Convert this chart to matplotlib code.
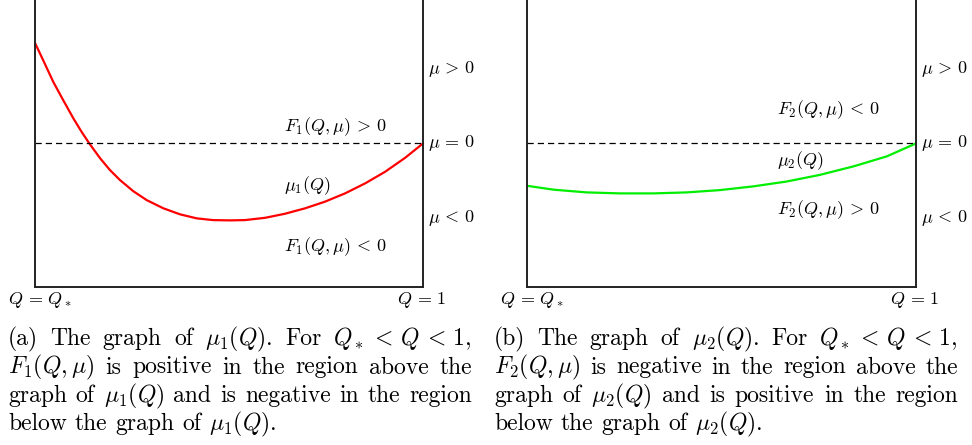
import re
import numpy as np
import matplotlib
matplotlib.use("Agg")
import matplotlib.pyplot as plt

plt.rcParams["mathtext.fontset"] = "cm"
plt.rcParams["font.family"] = "serif"
plt.rcParams["font.serif"] = ["cmr10", "DejaVu Serif"]
plt.rcParams["axes.unicode_minus"] = False

# curve values, Q rescaled so Q_* -> 0 and 1 -> 1,
# mu scaled so the bottom of the box is -1
q1 = [0.0, 0.021, 0.047, 0.073, 0.099, 0.120, 0.140, 0.168, 0.193, 0.219,
      0.253, 0.288, 0.331, 0.374, 0.417, 0.459, 0.503, 0.541, 0.593, 0.644,
      0.696, 0.747, 0.799, 0.851, 0.902, 0.954, 1.0]
mu1 = [0.700, 0.580, 0.429, 0.300, 0.174, 0.081, 0.0, -0.104, -0.185, -0.255,
       -0.332, -0.395, -0.452, -0.494, -0.522, -0.534, -0.536, -0.534, -0.518,
       -0.490, -0.452, -0.406, -0.348, -0.278, -0.198, -0.100, 0.0]

q2 = [0.0, 0.068, 0.153, 0.239, 0.325, 0.411, 0.496, 0.582, 0.668, 0.753,
      0.839, 0.925, 1.0]
mu2 = [-0.295, -0.322, -0.341, -0.348, -0.348, -0.341, -0.325, -0.299,
       -0.265, -0.219, -0.160, -0.090, 0.0]

captions = [
    ["(a) The graph of $\\mu_1(Q)$.  For $Q_* \\, < \\, Q \\, < \\, 1$,",
     "$F_1(Q,\\mu)$ is positive in the region above the",
     "graph of $\\mu_1(Q)$ and is negative in the region",
     "below the graph of $\\mu_1(Q)$."],
    ["(b) The graph of $\\mu_2(Q)$.  For $Q_* \\, < \\, Q \\, < \\, 1$,",
     "$F_2(Q,\\mu)$ is negative in the region above the",
     "graph of $\\mu_2(Q)$ and is positive in the region",
     "below the graph of $\\mu_2(Q)$."],
]

W, H = 972, 445
fig = plt.figure(figsize=(W / 100, H / 100), dpi=100)


def fx(px):
    return px / W


def fy(py):
    return 1 - py / H


TS = 13


def panel(x0, x1, q, mu, color, labels):
    ax = fig.add_axes([fx(x0), fy(287), fx(x1) - fx(x0), fy(-3) - fy(287)])
    ax.plot(q, mu, color=color, lw=1.6, solid_capstyle="round", clip_on=False)
    ax.axhline(0, color="black", lw=0.9, ls=(0, (5, 3.2)))
    ax.set_xlim(0, 1)
    ax.set_ylim(-1, 1.02)
    ax.set_xticks([])
    ax.set_yticks([])
    for s in ax.spines.values():
        s.set_linewidth(1.4)
        s.set_color("#222222")
    fig.text(fx(x1 + 5), fy(69), "$\\mu \\, > \\, 0$", fontsize=TS, va="center")
    fig.text(fx(x1 + 5), fy(143), "$\\mu \\, = \\, 0$", fontsize=TS, va="center")
    fig.text(fx(x1 + 5), fy(218), "$\\mu \\, < \\, 0$", fontsize=TS, va="center")
    for (px, py, s) in labels:
        fig.text(fx(px), fy(py), s, fontsize=TS, va="center")
    fig.text(fx(x0 - 27), fy(300), "$Q \\, = \\, Q_*$", fontsize=TS, va="center")
    fig.text(fx(x1 - 26), fy(300), "$Q \\, = \\, 1$", fontsize=TS, va="center")
    return ax


panel(35, 423, q1, mu1, "#ff0000",
      [(284, 126.5, "$F_1(Q,\\mu) \\, > \\, 0$"),
       (284, 186, "$\\mu_1(Q)$"),
       (284, 246.5, "$F_1(Q,\\mu) \\, < \\, 0$")])
panel(527, 916, q2, mu2, "#00ee00",
      [(777, 110, "$F_2(Q,\\mu) \\, < \\, 0$"),
       (777, 161, "$\\mu_2(Q)$"),
       (777, 210, "$F_2(Q,\\mu) \\, > \\, 0$")])

# justified captions
renderer = fig.canvas.get_renderer()
cap_size = 17
line_y = [345, 373.5, 402, 430]
for (left, right), lines in zip([(8, 472), (494, 958)], captions):
    for i, line in enumerate(lines):
        words = re.findall(r"(?:\$[^$]*\$|[^\s$])+", line)
        objs = [fig.text(0, fy(line_y[i]), w, fontsize=cap_size, va="baseline")
                for w in words]
        widths = [o.get_window_extent(renderer).width for o in objs]
        if i < len(lines) - 1:
            gap = (right - left - sum(widths)) / (len(words) - 1)
        else:
            gap = 8
        x = left
        for o, w in zip(objs, widths):
            o.set_x(fx(x))
            x += w + gap

fig.savefig("out.png", dpi=100)
